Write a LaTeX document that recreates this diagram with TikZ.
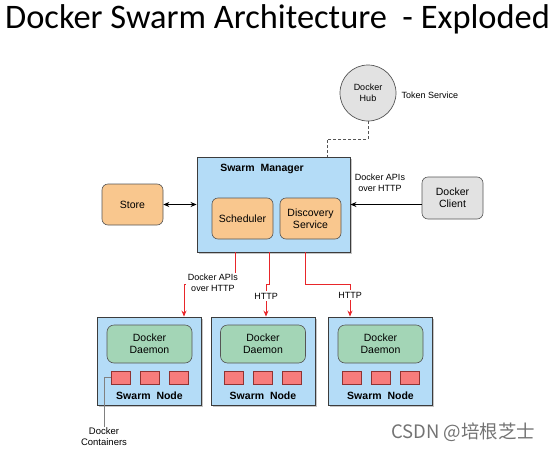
\documentclass[tikz,border=0pt]{standalone}
\usepackage{fontspec}
\setmainfont{Liberation Sans}
\newfontfamily\titlefont{Carlito}
\newfontfamily\cjkfont{Noto Sans CJK SC}
\usetikzlibrary{shadows,arrows.meta}
\definecolor{bluefill}{HTML}{B4DCF7}
\definecolor{orangefill}{HTML}{F9C78E}
\definecolor{greenfill}{HTML}{A3D5B6}
\definecolor{redfill}{HTML}{F77C7C}
\definecolor{grayfill}{HTML}{E2E2E2}
\definecolor{edgegray}{HTML}{555555}
\definecolor{linered}{HTML}{E8262A}
\tikzset{
  base/.style={font=\fontsize{10.5}{12}\selectfont, align=center, inner sep=0pt},
  bigbox/.style={base, draw=edgegray!70!black, line width=0.9pt, fill=bluefill, drop shadow={shadow xshift=1.8pt, shadow yshift=-1.8pt, opacity=0.45}},
  orangebox/.style={base, draw=edgegray, line width=0.6pt, fill=orangefill, rounded corners=6pt, minimum width=61pt, minimum height=41pt},
  graybox/.style={base, draw=edgegray, line width=0.6pt, fill=grayfill, rounded corners=6pt, minimum width=61pt, minimum height=42pt},
  daemon/.style={base, draw=edgegray, line width=0.6pt, fill=greenfill, rounded corners=7pt, minimum width=85pt, minimum height=38pt},
  cont/.style={draw=red!45!black!80, line width=0.5pt, fill=redfill, minimum width=19pt, minimum height=13pt, inner sep=0pt},
  small/.style={font=\fontsize{9}{10.5}\selectfont, align=center, inner sep=1.5pt},
  boldlbl/.style={font=\fontsize{10.5}{12}\selectfont\bfseries, inner sep=0pt},
  redarrow/.style={draw=linered, line width=0.8pt, -{Stealth[length=6pt,width=5pt]}},
  blackarrow/.style={draw=black, line width=0.8pt, -{Stealth[length=6pt,width=5pt]}},
}
\begin{document}
\begin{tikzpicture}[x=1pt,y=-1pt]
\useasboundingbox (0,0) rectangle (554,450);
% title
\node[anchor=west, inner sep=0pt, font=\titlefont\fontsize{34.4}{38}\selectfont] (title) at (5,19) {Docker Swarm Architecture\ \ - Exploded};
% hub
\node[base, circle, draw=edgegray, line width=0.7pt, fill=grayfill, minimum size=56pt, font=\fontsize{9}{11}\selectfont] (hub) at (368,93) {Docker\\Hub};
\node[small, anchor=west] (token) at (400,95) {Token Service};
% manager
\node[bigbox, minimum width=153pt, minimum height=95pt] (mgr) at (273.5,204.5) {};
\node[boldlbl] (mgrlbl) at (262,169) {Swarm\ \ Manager};
\node[orangebox] (sched) at (242.5,218.5) {Scheduler};
\node[orangebox] (disc) at (310.5,218.5) {Discovery\\Service};
\node[orangebox] (store) at (132.5,204.5) {Store};
\node[graybox] (client) at (452.5,198) {Docker\\Client};
% connectors to manager
\draw[line width=0.8pt, {Stealth[length=6pt,width=5pt]}-{Stealth[length=6pt,width=5pt]}] (store.east) -- (mgr.west);
\draw[blackarrow] (client.west |- 0,204.5) -- (mgr.east);
\node[small] (apilbl) at (380,183) {Docker APIs\\over HTTP};
\draw[edgegray, line width=0.8pt, dash pattern=on 3pt off 2pt] (hub.south) -- ++(0,18) -| ([xshift=53.5pt]mgr.north);
% swarm nodes
\foreach \n/\cx in {1/149.5, 2/263, 3/380.5} {
  \node[bigbox, minimum width=104pt, minimum height=88pt] (n\n) at (\cx,361) {};
  \node[daemon] (d\n) at (\cx,344) {Docker\\Daemon};
  \node[cont] (c\n a) at (\cx-29,377.5) {};
  \node[cont] (c\n b) at (\cx,377.5) {};
  \node[cont] (c\n c) at (\cx+29,377.5) {};
  \node[boldlbl] (s\n) at (\cx,396) {Swarm\ \ Node};
}
% red connectors
\draw[redarrow] ([xshift=-38.5pt]mgr.south) -- ++(0,32) -| ([xshift=34.5pt]n1.north);
\draw[redarrow] ([xshift=-4.5pt]mgr.south) -- ++(0,32) -| ([xshift=3pt]n2.north);
\draw[redarrow] ([xshift=31.5pt]mgr.south) -- ++(0,32) -| ([xshift=-30.5pt]n3.north);
\node[small, fill=white] (l1) at (213,283) {Docker APIs\\over HTTP};
\node[small, fill=white] (l2) at (266,296) {HTTP};
\node[small, fill=white] (l3) at (350,295) {HTTP};
% containers label
\node[small, inner sep=1pt, font=\fontsize{9.5}{11}\selectfont] (clbl) at (104,437) {Docker\\Containers};
\draw[gray, line width=0.5pt] (c1a.west) -| (clbl.north);
% watermark
\node[anchor=west, inner sep=0pt, text=black!55, font=\cjkfont\fontsize{18.5}{20}\selectfont] (wm) at (391,432) {CSDN @培根芝士};
\end{tikzpicture}
\end{document}
